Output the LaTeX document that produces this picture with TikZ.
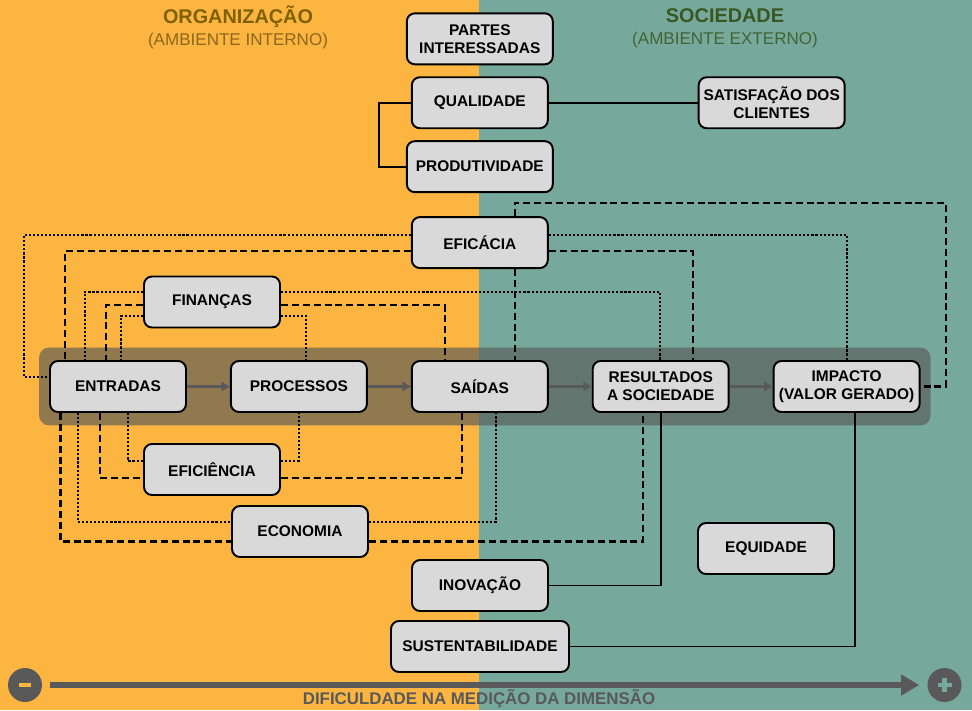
\documentclass[tikz,border=0pt]{standalone}
\usepackage{fontspec}
\setmainfont{Liberation Sans}
\usetikzlibrary{arrows.meta,positioning,calc,fit,backgrounds}
\definecolor{orgbg}{RGB}{253,181,65}
\definecolor{socbg}{RGB}{118,169,156}
\definecolor{boxgray}{RGB}{217,217,217}
\definecolor{axisgray}{RGB}{89,89,89}
\definecolor{bandgray}{RGB}{88,90,88}
\definecolor{orgtitle}{RGB}{127,96,0}
\definecolor{orgsub}{RGB}{140,104,30}
\definecolor{soctitle}{RGB}{56,87,35}
\definecolor{socsub}{RGB}{66,100,52}

\begin{document}
\begin{tikzpicture}[x=0.02cm,y=0.02cm,node distance=0.86cm,
  box/.style={draw=black,line width=1.1pt,fill=boxgray,rounded corners=1.6mm,align=center,font=\fontsize{8.8}{10.2}\selectfont\bfseries,minimum width=2.72cm,minimum height=1.02cm,inner sep=1pt},
  wbox/.style={box,minimum width=2.92cm},
  dotln/.style={line width=1.2pt,dash pattern=on 1.2pt off 1.1pt},
  dashln/.style={line width=1.2pt,dash pattern=on 4pt off 2.2pt},
  link/.style={line width=1.1pt},
  flow/.style={axisgray,line width=1.2pt,-{Triangle[length=1.7mm,width=1.8mm]}}]
\useasboundingbox (0,0) rectangle (972,710);
\node[box] (entradas) at (118,323.5) {ENTRADAS};
\node[box,right=of entradas] (processos) {PROCESSOS};
\node[box,right=of processos] (saidas) {SAÍDAS};
\node[box,right=of saidas] (resultados) {RESULTADOS\\A SOCIEDADE};
\node[wbox,right=of resultados] (impacto) {IMPACTO\\(VALOR GERADO)};
\node[box,above=1.82cm of saidas] (eficacia) {EFICÁCIA};
\node[wbox,above=0.46cm of eficacia] (produtividade) {PRODUTIVIDADE};
\node[box,above=0.22cm of produtividade] (qualidade) {QUALIDADE};
\node[wbox,above=0.22cm of qualidade] (partes) {PARTES\\INTERESSADAS};
\node[wbox,right=2.98cm of qualidade] (satisfacao) {SATISFAÇÃO DOS\\CLIENTES};
\node[box] (financas) at (212,408) {FINANÇAS};
\node[box] (eficiencia) at (212,240.5) {EFICIÊNCIA};
\node[box] (economia) at (300,178.5) {ECONOMIA};
\node[box] (equidade) at (766,161.5) {EQUIDADE};
\node[box] (inovacao) at (480,124.5) {INOVAÇÃO};
\node[box,minimum width=3.56cm] (sustentab) at (480,63.5) {SUSTENTABILIDADE};
\node[font=\fontsize{11.3}{13}\selectfont\bfseries,text=orgtitle] (orgname) at (238,693) {ORGANIZAÇÃO};
\node[font=\fontsize{9.7}{12}\selectfont,text=orgsub] (orgenv) at (238,669) {(AMBIENTE INTERNO)};
\node[font=\fontsize{11.3}{13}\selectfont\bfseries,text=soctitle] (socname) at (725,694) {SOCIEDADE};
\node[font=\fontsize{9.7}{12}\selectfont,text=socsub] (socenv) at (725,670) {(AMBIENTE EXTERNO)};
\begin{scope}[on background layer]
\fill[orgbg] (0,0) rectangle (479,710);
\fill[socbg] (479,0) rectangle (972,710);
\node[fit=(entradas)(impacto),inner xsep=0.2cm,inner ysep=0.25cm,rounded corners=2mm,fill=bandgray,fill opacity=0.65] (band) {};
\end{scope}
\draw[flow] (entradas) -- (processos); \draw[flow] (processos) -- (saidas);
\draw[flow] (saidas) -- (resultados); \draw[flow] (resultados) -- (impacto);
\draw[link] (qualidade.west) -- ++(-32,0) |- (produtividade.west);
\draw[link] (qualidade) -- (satisfacao);
\draw[link] (resultados.south) |- (inovacao.east);
\draw[link] ($(impacto.south)+(8.5,0)$) |- (sustentab.east);
\draw[dotln] ($(eficacia.west)+(0,7.5)$) -| ($(entradas.west)+(-25,9.5)$) -- ($(entradas.west)+(0,9.5)$);
\draw[dashln] ($(eficacia.west)+(0,-8.5)$) -| ($(entradas.north)+(-53,0)$);
\draw[dotln] ($(eficacia.east)+(0,7.5)$) -| (impacto.north);
\draw[dashln] ($(eficacia.east)+(0,-8.5)$) -| ($(resultados.north)+(32,0)$);
\draw[dashln] ($(eficacia.south)+(35,0)$) -- ($(saidas.north)+(35,0)$);
\draw[dashln] ($(eficacia.north)+(35,0)$) -- ++(0,13.3) -| ($(impacto.east)+(25,0)$) -- (impacto.east);
\draw[dotln] ($(financas.west)+(0,10.3)$) -| ($(entradas.north)+(-33,0)$);
\draw[dotln] ($(financas.east)+(0,10.3)$) -| ($(resultados.north)+(-1,0)$);
\draw[dashln] ($(financas.west)+(0,-3)$) -| ($(entradas.north)+(-12,0)$);
\draw[dashln] ($(financas.east)+(0,-3)$) -| ($(saidas.north)+(-35,0)$);
\draw[dotln] ($(financas.west)+(0,-14)$) -| ($(entradas.north)+(3,0)$);
\draw[dotln] ($(financas.east)+(0,-14)$) -| ($(processos.north)+(7.5,0)$);
\draw[dotln] ($(entradas.south)+(9.7,0)$) |- ($(eficiencia.west)+(0,8.8)$);
\draw[dotln] ($(eficiencia.east)+(0,8.8)$) -| (processos.south);
\draw[dashln] ($(entradas.south)+(-18,0)$) |- ($(eficiencia.west)+(0,-8.5)$);
\draw[dashln] ($(eficiencia.east)+(0,-8.5)$) -| ($(saidas.south)+(-17.5,0)$);
\draw[dotln] ($(entradas.south)+(-40,0)$) |- ($(economia.west)+(0,9.5)$);
\draw[dotln] ($(economia.east)+(0,9.5)$) -| ($(saidas.south)+(16,0)$);
\draw[dashln] ($(entradas.south)+(-57.5,0)$) |- ($(economia.west)+(0,-10)$);
\draw[dashln] ($(economia.east)+(0,-10)$) -| ($(resultados.south)+(-18,0)$);
\node[circle,fill=axisgray,minimum size=0.68cm,inner sep=0pt] (lo) at (25,25) {};
\node[circle,fill=axisgray,minimum size=0.68cm,inner sep=0pt] (hi) at (944.5,25) {};
\draw[line width=2.3pt,orgbg] ($(lo)+(-6,0)$) -- ($(lo)+(6,0)$);
\draw[line width=2.3pt,socbg] ($(hi)+(-7,0)$) -- ($(hi)+(7,0)$) ($(hi)+(0,-7)$) -- ($(hi)+(0,7)$);
\draw[axisgray,line width=3.4pt,-{Triangle[length=3.6mm,width=4mm]},shorten <=0.16cm,shorten >=0.16cm] (lo) -- (hi);
\node[font=\fontsize{9.6}{11}\selectfont\bfseries,text=axisgray] (axislabel) at (479,11) {DIFICULDADE NA MEDIÇÃO DA DIMENSÃO};
\end{tikzpicture}
\end{document}
